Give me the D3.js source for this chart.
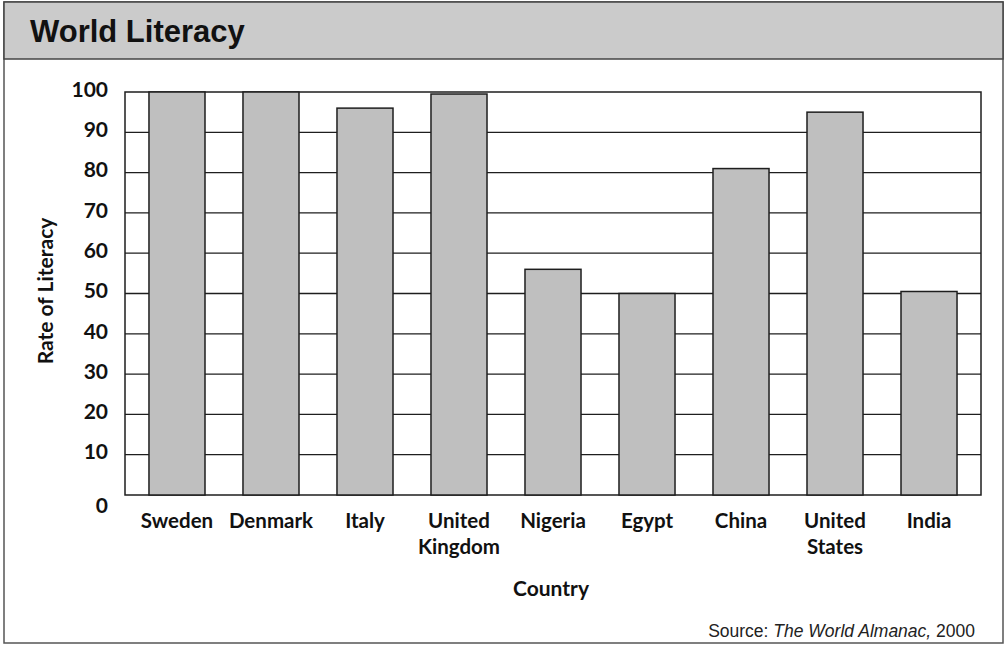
<!DOCTYPE html>
<html>
<head>
<meta charset="utf-8">
<script src="https://cdn.jsdelivr.net/npm/d3@7"></script>
<style>
	body { margin: 0; background: #fff; }
	svg { display: block; }
</style>
</head>
<body>
<div id="chart"></div>
<script>
//Chart data
const COUNTRIES = ["Sweden", "Denmark", "Italy", "United Kingdom", "Nigeria", "Egypt", "China", "United States", "India"];
const LITERACY = [100, 100, 96, 99.5, 56, 50, 81, 95, 50.5];
const Y_TICKS = [0, 10, 20, 30, 40, 50, 60, 70, 80, 90, 100];

//SVG options
const WIDTH = 1005;
const HEIGHT = 649;
const BAR_COLOR = "#bfbfbf";
const HEADER_COLOR = "#cbcbcb";
const LINE_COLOR = "#1e1e1e";
const LABEL_FONT = "Lato, 'Open Sans', sans-serif";

//Plot box
const PLOT_LEFT = 125;
const PLOT_RIGHT = 981;
const PLOT_TOP = 92;
const PLOT_BOTTOM = 495;

//////////////////////////////////////////////////

var svg = d3.select("#chart")
			.append("svg")
			.attr("width", WIDTH)
			.attr("height", HEIGHT);

//Outer frame and header band
svg.append("rect")
   .attr("x", 4).attr("y", 2)
   .attr("width", 999).attr("height", 641)
   .attr("fill", "none")
   .attr("stroke", "#555")
   .attr("stroke-width", 1.5);

svg.append("rect")
   .attr("x", 4).attr("y", 2)
   .attr("width", 999).attr("height", 57)
   .attr("fill", HEADER_COLOR)
   .attr("stroke", "#444")
   .attr("stroke-width", 1.5);

svg.append("text")
   .attr("x", 30).attr("y", 42)
   .attr("font-family", "'Liberation Sans', Arial, sans-serif")
   .attr("font-weight", "bold")
   .attr("font-size", 31)
   .attr("fill", "#111")
   .text("World Literacy");

//Scales
var x = d3.scaleBand()
		  .domain(COUNTRIES)
		  .range([PLOT_LEFT, PLOT_RIGHT])
		  .paddingInner(0.404)
		  .paddingOuter(0.255);

var y = d3.scaleLinear()
		  .domain([0, 100])
		  .range([PLOT_BOTTOM, PLOT_TOP]);

//Horizontal grid lines
svg.append("g")
   .selectAll("line")
   .data(Y_TICKS.filter(function(d) { return d > 0 && d < 100; }))
   .join("line")
   .attr("x1", PLOT_LEFT).attr("x2", PLOT_RIGHT)
   .attr("y1", function(d) { return y(d); })
   .attr("y2", function(d) { return y(d); })
   .attr("stroke", LINE_COLOR)
   .attr("stroke-width", 1.3);

//Plot box
svg.append("rect")
   .attr("x", PLOT_LEFT).attr("y", PLOT_TOP)
   .attr("width", PLOT_RIGHT - PLOT_LEFT)
   .attr("height", PLOT_BOTTOM - PLOT_TOP)
   .attr("fill", "none")
   .attr("stroke", LINE_COLOR)
   .attr("stroke-width", 1.5);

//Bars
svg.append("g")
   .selectAll("rect")
   .data(COUNTRIES)
   .join("rect")
   .attr("x", function(d) { return x(d); })
   .attr("y", function(d, i) { return y(LITERACY[i]); })
   .attr("width", x.bandwidth())
   .attr("height", function(d, i) { return y(0) - y(LITERACY[i]); })
   .attr("fill", BAR_COLOR)
   .attr("stroke", LINE_COLOR)
   .attr("stroke-width", 1.5);

//Y tick labels
var yAxis = svg.append("g")
			   .attr("transform", "translate(108,0)")
			   .call(d3.axisLeft(y).tickValues(Y_TICKS).tickSize(0).tickPadding(0));
yAxis.select(".domain").remove();
yAxis.selectAll("text")
	 .attr("font-family", LABEL_FONT)
	 .attr("font-weight", "bold")
	 .attr("font-size", 21)
	 .attr("fill", "#111")
	 .attr("dy", function(d) { return d == 0 ? "0.85em" : "0.2em"; });

//X category labels, split on the first space for two-word names
var xAxis = svg.append("g")
			   .attr("transform", "translate(0," + PLOT_BOTTOM + ")")
			   .call(d3.axisBottom(x).tickSize(0).tickPadding(0));
xAxis.select(".domain").remove();
xAxis.selectAll("text").each(function(d) {
	var t = d3.select(this).text("")
			  .attr("y", 0).attr("dy", null)
			  .attr("font-family", LABEL_FONT)
			  .attr("font-weight", "bold")
			  .attr("font-size", 20.5)
			  .attr("fill", "#111");
	var words = d.indexOf(" ") < 0 ? [d] : d.split(" ");
	words.forEach(function(w, k) {
		t.append("tspan").attr("x", 0).attr("y", 33 + k * 26).text(w);
	});
});

//Axis titles
svg.append("text")
   .attr("transform", "translate(53,291) rotate(-90)")
   .attr("text-anchor", "middle")
   .attr("font-family", LABEL_FONT)
   .attr("font-weight", "bold")
   .attr("font-size", 21)
   .attr("fill", "#111")
   .text("Rate of Literacy");

svg.append("text")
   .attr("x", 551).attr("y", 596)
   .attr("text-anchor", "middle")
   .attr("font-family", LABEL_FONT)
   .attr("font-weight", "bold")
   .attr("font-size", 21)
   .attr("fill", "#111")
   .text("Country");

//Source note
var src = svg.append("text")
			 .attr("x", 975).attr("y", 637)
			 .attr("text-anchor", "end")
			 .attr("font-family", "'Liberation Sans Narrow', 'Liberation Sans', sans-serif")
			 .attr("font-size", 17.5)
			 .attr("fill", "#222");
src.append("tspan").text("Source:  ");
src.append("tspan").attr("font-style", "italic").text("The World Almanac,");
src.append("tspan").text(" 2000");
</script>
</body>
</html>
